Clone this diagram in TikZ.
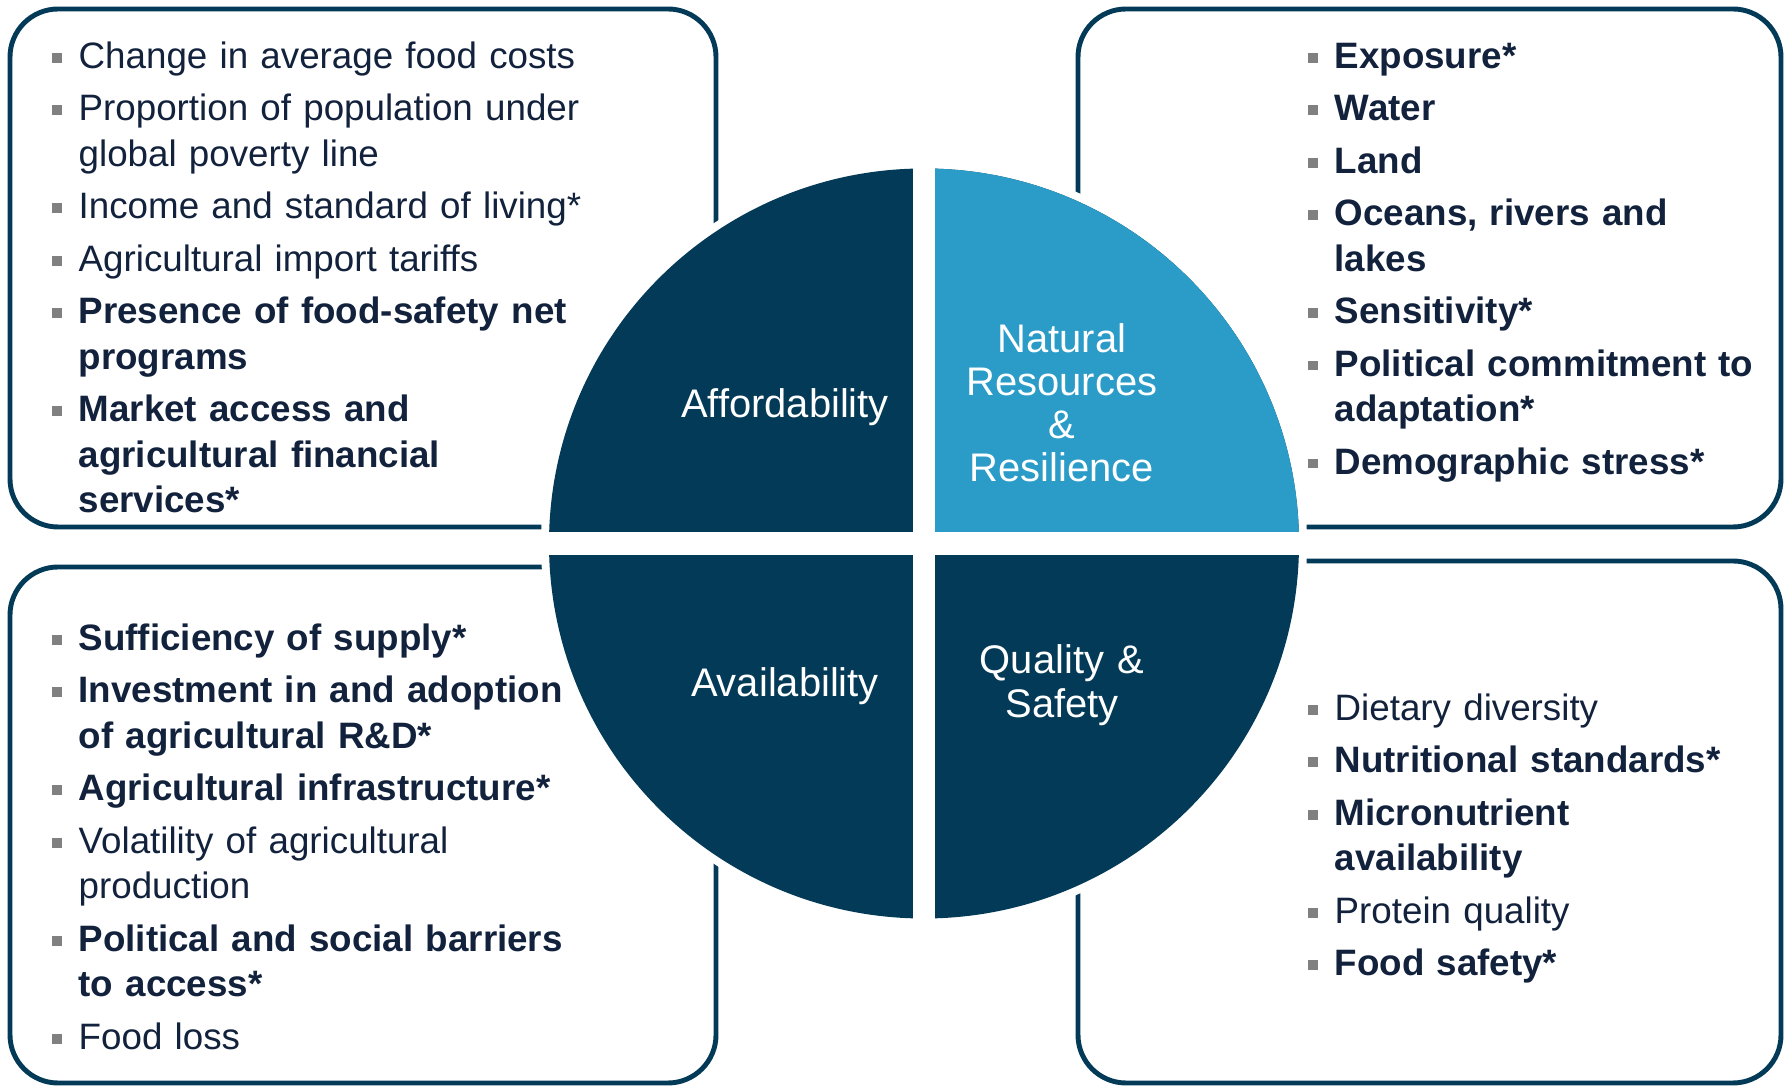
\documentclass[tikz,border=0pt]{standalone}
\usepackage{fontspec}
\setmainfont{Liberation Sans}

\definecolor{navy}{RGB}{3,58,87}
\definecolor{skyblue}{RGB}{43,156,200}
\definecolor{inknavy}{RGB}{18,34,60}
\definecolor{bulletgray}{RGB}{128,128,128}

\newcommand{\blt}{\leavevmode\llap{\textcolor{bulletgray}{\rule[1.6pt]{2.8pt}{2.8pt}}\hspace{4.7pt}}}

\begin{document}
\begin{tikzpicture}[x=0.01cm, y=-0.01cm,
	panel/.style={draw=navy, line width=1.4pt, rounded corners=0.48cm},
	itemlist/.style={anchor=base west, inner sep=0pt, text width=6cm, align=left, text=inknavy, font=\fontsize{10.45pt}{12.97pt}\selectfont},
	quadlabel/.style={anchor=base, inner sep=0pt, text width=3cm, align=center, text=white, font=\fontsize{11.35pt}{12.25pt}\selectfont}]
	\useasboundingbox (0,0) rectangle (1787,1086);
	\draw[panel] (10,9) rectangle (716,527);
	\draw[panel] (1078,9) rectangle (1781,527);
	\draw[panel] (10,567) rectangle (716,1083);
	\draw[panel] (1078,561) rectangle (1781,1083);
	\coordinate (O) at (924,543.5);
	\fill[white] (O) circle (383);
	\fill[navy] (O) circle (375);
	\begin{scope}
		\clip (924,0) rectangle (1787,543.5);
		\fill[skyblue] (O) circle (375);
	\end{scope}
	\fill[white] (913,150) rectangle (935,940);
	\fill[white] (530,532) rectangle (1320,555);
	\node[quadlabel] (afford) at (785,418) {Affordability};
	\node[quadlabel] (natres) at (1062,352.5) {Natural\\Resources\\\&\\Resilience};
	\node[quadlabel] (avail) at (785,697) {Availability};
	\node[quadlabel] (quality) at (1062,674) {Quality \&\\Safety};
	\node[itemlist] (affordlist) at (78,68.5) {\blt Change in average food costs\\[1.93pt]
		\blt Proportion of population under\\global poverty line\\[1.93pt]
		\blt Income and standard of living*\\[1.93pt]
		\blt Agricultural import tariffs\\[1.93pt]
		{\bfseries\blt Presence of food-safety net\\programs\\[1.93pt]
		\blt Market access and\\agricultural financial\\services*}};
	\node[itemlist] (natreslist) at (1334,68.5) {\bfseries\blt Exposure*\\[1.93pt]
		\blt Water\\[1.93pt]
		\blt Land\\[1.93pt]
		\blt Oceans, rivers and\\lakes\\[1.93pt]
		\blt Sensitivity*\\[1.93pt]
		\blt Political commitment to\\adaptation*\\[1.93pt]
		\blt Demographic stress*};
	\node[itemlist] (availlist) at (78,650.5) {{\bfseries\blt Sufficiency of supply*\\[1.93pt]
		\blt Investment in and adoption\\of agricultural R\&D*\\[1.93pt]
		\blt Agricultural infrastructure*}\\[1.93pt]
		\blt Volatility of agricultural\\production\\[1.93pt]
		{\bfseries\blt Political and social barriers\\to access*}\\[1.93pt]
		\blt Food loss};
	\node[itemlist] (qualitylist) at (1334,720.5) {\blt Dietary diversity\\[1.93pt]
		{\bfseries\blt Nutritional standards*\\[1.93pt]
		\blt Micronutrient\\availability}\\[1.93pt]
		\blt Protein quality\\[1.93pt]
		{\bfseries\blt Food safety*}};
\end{tikzpicture}
\end{document}
